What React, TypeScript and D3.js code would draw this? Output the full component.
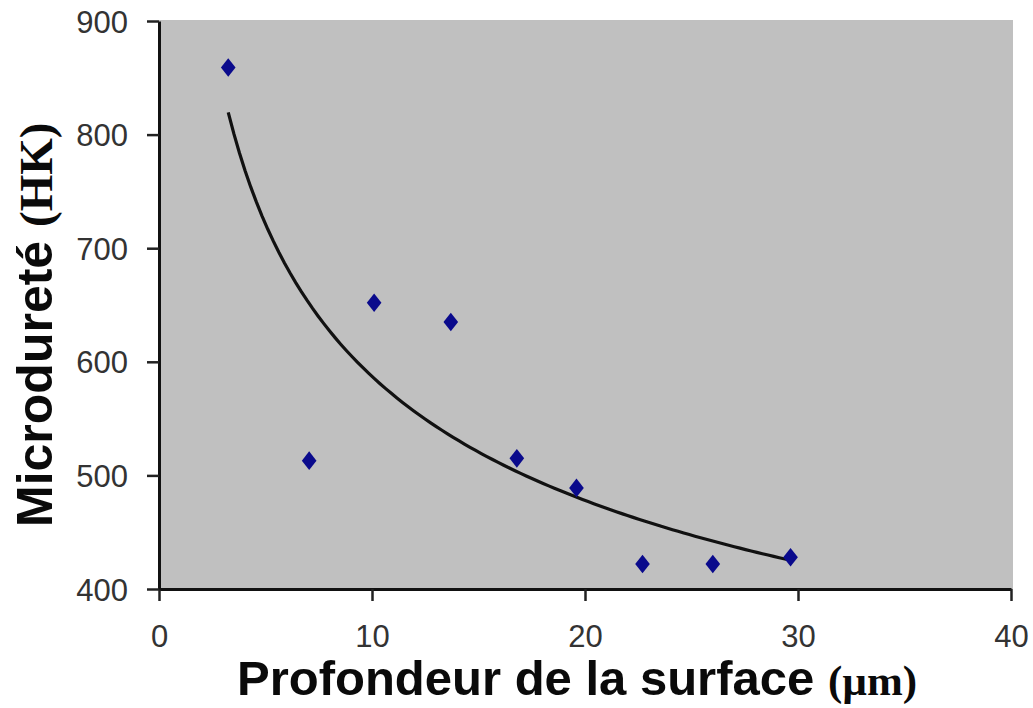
import { useEffect, useRef } from 'react'
import * as d3 from 'd3'

// profondeur (µm) et microdureté (HK)
const depth = [3.25, 7.05, 10.1, 13.7, 16.8, 19.6, 22.7, 26.0, 29.65]
const hardness = [859, 513, 652, 635, 515, 489, 422, 422, 428]

const xTicks = [0, 10, 20, 30, 40]
const yTicks = [400, 500, 600, 700, 800, 900]

const xTitle = 'Profondeur de la surface'
const xUnit = '(µm)'
const yTitle = 'Microdureté'
const yUnit = '(HK)'

export default function App() {
    const ref = useRef<SVGSVGElement>(null)
    const width = 1033, height = 708
    const margin = { top: 21, left: 159, bottom: 119, right: 22 }
    const markerColor = '#0a0a8c', plotColor = '#c0c0c0'

    useEffect(() => {
        const svg = d3.select(ref.current)
        svg.selectAll('*').remove()

        const xScale = d3.scaleLinear().domain([0, 40]).range([margin.left, width - margin.right])
        const yScale = d3.scaleLinear().domain([400, 900]).range([height - margin.bottom, margin.top])

        svg.append('rect')
            .attr('width', width)
            .attr('height', height)
            .attr('fill', 'white')

        svg.append('rect')
            .attr('x', xScale(0))
            .attr('y', yScale(900) - 1)
            .attr('width', xScale(40) - xScale(0) + 2)
            .attr('height', yScale(400) - yScale(900) + 1)
            .attr('fill', plotColor)

        // courbe de tendance (puissance) ajustée sur les points
        const lx = depth.map((d) => Math.log(d)), ly = hardness.map((d) => Math.log(d))
        const mx = d3.mean(lx) as number, my = d3.mean(ly) as number
        const b = d3.sum(lx.map((v, i) => (v - mx) * (ly[i] - my))) / d3.sum(lx.map((v) => (v - mx) ** 2))
        const a = Math.exp(my - b * mx)
        const [x0, x1] = d3.extent(depth) as [number, number]
        const fit = d3.range(0, 101).map((i) => {
            const x = x0 + (x1 - x0) * i / 100
            return [x, a * Math.pow(x, b)]
        })

        const linePath = d3.line<number[]>()
            .x((d) => xScale(d[0]))
            .y((d) => yScale(d[1]))

        svg.append('path')
            .attr('d', linePath(fit))
            .attr('fill', 'none')
            .attr('stroke', '#111')
            .attr('stroke-width', 3.2)

        const symbol = d3.symbol().type(d3.symbolDiamond).size(110)
        svg.append('g')
            .selectAll('path')
            .data(depth)
            .join('path')
            .attr('transform', (d, i) => `translate(${xScale(d)}, ${yScale(hardness[i])}) scale(1.3, 0.95)`)
            .attr('d', symbol())
            .attr('fill', markerColor)

        // axes
        const xAxis = d3.axisBottom(xScale).tickValues(xTicks).tickSize(12).tickSizeOuter(0).tickFormat(d3.format('d'))
        const gx = svg.append('g')
            .attr('transform', `translate(0, ${yScale(400)})`)
            .call(xAxis)
        gx.select('.domain').attr('stroke', '#111').attr('stroke-width', 3)
        gx.selectAll('line').attr('stroke', '#222').attr('stroke-width', 2.5)
        gx.selectAll('text')
            .attr('y', 58)
            .attr('dy', 0)
            .attr('fill', '#333')
            .style('font-family', '"Liberation Sans", Arial, sans-serif')
            .style('font-size', '31px')

        const yAxis = d3.axisLeft(yScale).tickValues(yTicks).tickSize(12).tickSizeOuter(0)
        const gy = svg.append('g')
            .attr('transform', `translate(${xScale(0)}, 0)`)
            .call(yAxis)
        gy.select('.domain').attr('stroke', '#111').attr('stroke-width', 3)
        gy.selectAll('line').attr('stroke', '#222').attr('stroke-width', 2.5)
        gy.selectAll('text')
            .attr('x', -31)
            .attr('dy', '0.36em')
            .attr('fill', '#333')
            .style('font-family', '"Liberation Sans", Arial, sans-serif')
            .style('font-size', '31px')

        // titres
        const xt = svg.append('text')
            .attr('x', 237)
            .attr('y', 695)
            .attr('fill', '#0a0a0a')
            .style('font-weight', 'bold')
        xt.append('tspan')
            .style('font-family', '"Liberation Sans", Arial, sans-serif')
            .style('font-size', '49px')
            .text(xTitle + ' ')
        xt.append('tspan')
            .style('font-family', '"Liberation Serif", "Times New Roman", serif')
            .style('font-size', '43px')
            .text(xUnit)

        const yt = svg.append('text')
            .attr('transform', 'translate(52, 527) rotate(-90)')
            .attr('fill', '#0a0a0a')
            .style('font-weight', 'bold')
        yt.append('tspan')
            .style('font-family', '"Liberation Sans", Arial, sans-serif')
            .style('font-size', '50px')
            .text(yTitle + ' ')
        yt.append('tspan')
            .style('font-family', '"Liberation Serif", "Times New Roman", serif')
            .style('font-size', '47px')
            .text(yUnit)
    }, [])

    return (
        <svg ref={ref} width={width} height={height}
            style={{ position: 'absolute', left: 0, top: 0, display: 'block' }} />
    )
}
